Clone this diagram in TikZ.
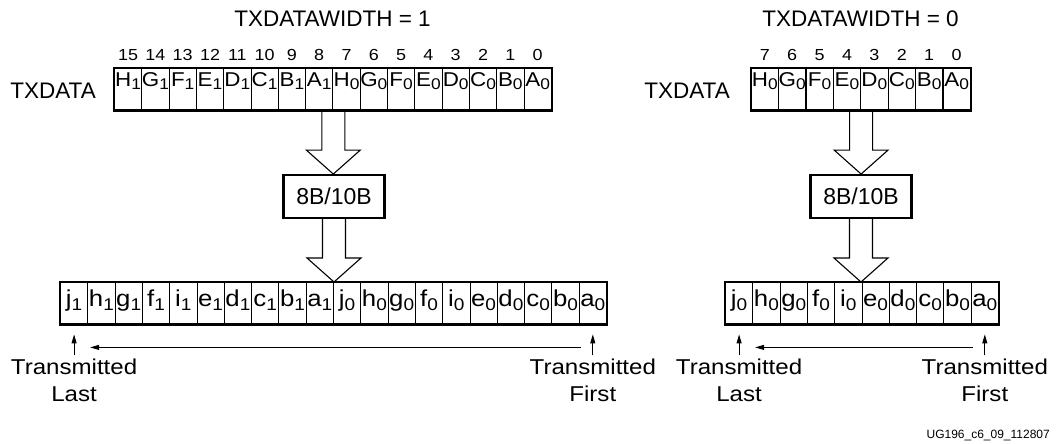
\documentclass[tikz,border=0pt]{standalone}
\usepackage{fontspec}
\setmainfont{Liberation Sans}
\newfontfamily\widefont{Liberation Sans}[FakeStretch=1.12]
\usetikzlibrary{arrows.meta,calc}

% register cell contents: letter with a lowered index
\newcommand\upcell[2]{{\widefont\fontsize{20}{20}\selectfont #1\raisebox{-3.5pt}{\fontsize{15.5}{15.5}\selectfont #2}}}
\newcommand\lowcell[2]{{\widefont\fontsize{23}{23}\selectfont #1\raisebox{-4pt}{\fontsize{17}{17}\selectfont #2}}}

% open block arrow from a register/box edge down to another edge
\newcommand\blockarrow[2]{%
  \draw[hollow] let \p1=(#1), \p2=(#2) in
    (\x1-11.5pt,\y1) -- (\x1-11.5pt,\y2+24pt) -- (\x1-27pt,\y2+24pt) --
    (\x1,\y2) -- (\x1+27pt,\y2+24pt) -- (\x1+11.5pt,\y2+24pt) -- (\x1+11.5pt,\y1);}

\begin{document}
\begin{tikzpicture}[x=1pt,y=-1pt,
  cell/.style={draw, line width=0.9pt, minimum width=27.3pt, minimum height=41.5pt,
               inner sep=0pt, anchor=north west},
  frame/.style={draw, line width=2.4pt},
  big/.style={font=\fontsize{22.5}{26}\selectfont, inner sep=0pt},
  bitno/.style={font=\widefont\fontsize{16}{16}\selectfont, anchor=base, inner sep=0pt},
  codec/.style={draw, line width=2.4pt, minimum width=101pt, minimum height=42.5pt,
                inner sep=0pt, font=\fontsize{23}{26}\selectfont},
  hollow/.style={draw, line width=1.1pt},
  tip/.style={-{Triangle[length=9pt,width=5pt]}, line width=0.9pt},
  note/.style={font=\widefont\fontsize{21.5}{24}\selectfont, anchor=base, inner sep=0pt},
  tag/.style={font=\fontsize{12}{12}\selectfont, anchor=base east, inner sep=0pt}
]
\useasboundingbox (0,0) rectangle (1057,444);

% ---------------- TXDATAWIDTH = 1 ----------------
\node[big, anchor=base] (titleA) at (332.5,27) {TXDATAWIDTH = 1};
\node[big, anchor=base east] (txA) at (96,98) {TXDATA};

\foreach \L/\S [count=\i from 0] in
  {H/1,G/1,F/1,E/1,D/1,C/1,B/1,A/1,H/0,G/0,F/0,E/0,D/0,C/0,B/0,A/0} {
  \node[cell] (ta\i) at ({114+27.3*\i},68) {};
  \node[anchor=base, inner sep=0pt] (tat\i) at ([yshift=-18pt]ta\i.north) {\upcell{\L}{\S}};
  \pgfmathtruncatemacro\b{15-\i}
  \node[bitno] (tan\i) at ([yshift=8pt]ta\i.north) {\b};
}

\node[codec] (codA) at (334,196.5) {8B/10B};

\foreach \L/\S [count=\i from 0] in
  {j/1,h/1,g/1,f/1,i/1,e/1,d/1,c/1,b/1,a/1,j/0,h/0,g/0,f/0,i/0,e/0,d/0,c/0,b/0,a/0} {
  \node[cell] (ba\i) at ({60+27.3*\i},282) {};
  \node[anchor=base, inner sep=0pt] (bat\i) at ([yshift=-24pt]ba\i.north) {\lowcell{\L}{\S}};
}

\blockarrow{ta7.south east}{codA.north}
\blockarrow{codA.south}{ba9.north east}

\draw[frame] (ta0.north west) rectangle (ta15.south east);
\draw[frame] (ba0.north west) rectangle (ba19.south east);

\coordinate (lastA) at ([yshift=-31pt]ba0.south);
\coordinate (firstA) at ([yshift=-31pt]ba19.south);
\draw[tip] (lastA) -- ([yshift=-10pt]ba0.south);
\draw[tip] (firstA) -- ([yshift=-10pt]ba19.south);
\draw[tip] ([xshift=-12pt,yshift=-23pt]ba19.south) -- ([xshift=16pt,yshift=-23pt]ba0.south);

\node[note] (lastA1) at ([yshift=-19pt]lastA) {Transmitted};
\node[note] (lastA2) at ([yshift=-46pt]lastA) {Last};
\node[note] (firstA1) at ([yshift=-19pt]firstA) {Transmitted};
\node[note] (firstA2) at ([yshift=-46pt]firstA) {First};

% ---------------- TXDATAWIDTH = 0 ----------------
\node[big, anchor=base] (titleB) at (860.5,27) {TXDATAWIDTH = 0};
\node[big, anchor=base east] (txB) at (730,98) {TXDATA};

\foreach \L [count=\i from 0] in {H,G,F,E,D,C,B,A} {
  \node[cell] (tb\i) at ({750.7+27.4*\i},68) {};
  \node[anchor=base, inner sep=0pt] (tbt\i) at ([yshift=-18pt]tb\i.north) {\upcell{\L}{0}};
  \pgfmathtruncatemacro\b{7-\i}
  \node[bitno] (tbn\i) at ([yshift=8pt]tb\i.north) {\b};
}

\node[codec] (codB) at (861,196.5) {8B/10B};

\foreach \L [count=\i from 0] in {j,h,g,f,i,e,d,c,b,a} {
  \node[cell] (bb\i) at ({725+27.3*\i},282) {};
  \node[anchor=base, inner sep=0pt] (bbt\i) at ([yshift=-24pt]bb\i.north) {\lowcell{\L}{0}};
}

\blockarrow{tb3.south east}{codB.north}
\blockarrow{codB.south}{bb4.north east}

\draw[frame] (tb0.north west) rectangle (tb7.south east);
\draw[frame] (bb0.north west) rectangle (bb9.south east);

\coordinate (lastB) at ([yshift=-31pt]bb0.south);
\coordinate (firstB) at ([yshift=-31pt]bb9.south);
\draw[tip] (lastB) -- ([yshift=-10pt]bb0.south);
\draw[tip] (firstB) -- ([yshift=-10pt]bb9.south);
\draw[tip] ([xshift=-12pt,yshift=-23pt]bb9.south) -- ([xshift=16pt,yshift=-23pt]bb0.south);

\node[note] (lastB1) at ([yshift=-19pt]lastB) {Transmitted};
\node[note] (lastB2) at ([yshift=-46pt]lastB) {Last};
\node[note] (firstB1) at ([yshift=-19pt]firstB) {Transmitted};
\node[note] (firstB2) at ([yshift=-46pt]firstB) {First};

\node[tag] (figtag) at (1050,438) {UG196\_c6\_09\_112807};
\end{tikzpicture}
\end{document}
